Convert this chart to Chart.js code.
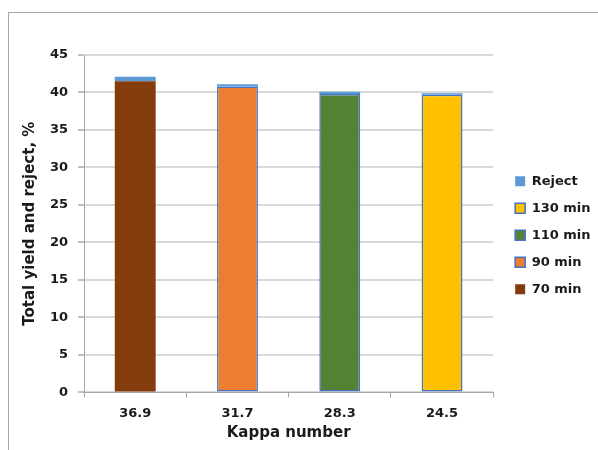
<!DOCTYPE html>
<html>
<head>
<meta charset="utf-8">
<script src="https://cdn.jsdelivr.net/npm/chart.js@4/dist/chart.umd.min.js"></script>
<style>
    html, body { margin: 0; background: #fff; overflow: hidden; width: 598px; height: 450px; }
    #moldura {
        position: absolute; left: 8px; top: 12px; width: 700px; height: 500px;
        border-left: 1px solid #a6a6a6; border-top: 1px solid #a6a6a6;
    }
    #caixa { position: absolute; left: 0; top: 0; width: 598px; height: 450px; }
</style>
</head>
<body>
<div id="moldura"></div>
<div id="caixa"><canvas id="grafico"></canvas></div>
<script>
const kappa = ["36.9", "31.7", "28.3", "24.5"];
const min70 = [41.5, null, null, null];
const min90 = [null, 40.8, null, null];
const min110 = [null, null, 39.8, null];
const min130 = [null, null, null, 39.7];
const rejeito = [0.6, 0.3, 0.3, 0.2];
const ticksY = [0, 5, 10, 15, 20, 25, 30, 35, 40, 45];

const fonte = "'DejaVu Sans', sans-serif";
const texto = "#1a1a1a";
const azulBorda = "#4472c4";

function serie(label, data, cor, borda) {
    return {
        label,
        data,
        backgroundColor: cor,
        borderColor: borda ? azulBorda : cor,
        borderWidth: borda ? 1.5 : 0,
        borderSkipped: false
    };
}

new Chart(document.getElementById("grafico"), {
    type: "bar",
    data: {
        labels: kappa,
        datasets: [
            serie("70 min", min70, "#843c0c", false),
            serie("90 min", min90, "#ed7d31", true),
            serie("110 min", min110, "#548235", true),
            serie("130 min", min130, "#ffc000", true),
            serie("Reject", rejeito, "#5b9bd5", false)
        ]
    },
    options: {
        responsive: true,
        maintainAspectRatio: false,
        animation: false,
        categoryPercentage: 1,
        barPercentage: 0.4,
        layout: { padding: { left: 17, top: 55, right: 0, bottom: 8 } },
        scales: {
            x: {
                stacked: true,
                grid: { offset: true, drawOnChartArea: false, tickLength: 5, color: "#a6a6a6" },
                border: { color: "#a6a6a6" },
                ticks: { color: texto, padding: 8, font: { family: fonte, size: 13, weight: "bold" } },
                title: {
                    display: true, text: "Kappa number", color: texto,
                    padding: { top: -5, bottom: 0 },
                    font: { family: fonte, size: 15, weight: "bold" }
                }
            },
            y: {
                stacked: true,
                min: 0,
                max: 45,
                afterBuildTicks: escala => { escala.ticks = ticksY.map(v => ({ value: v })); },
                grid: { color: "#d9d9d9", lineWidth: 2, tickLength: 6, tickColor: "#bfbfbf" },
                border: { color: "#a6a6a6" },
                ticks: { color: texto, padding: 10, font: { family: fonte, size: 13, weight: "bold" } },
                title: {
                    display: true, text: "Total yield and reject, %", color: texto,
                    padding: { top: 4, bottom: 1 },
                    font: { family: fonte, size: 15, weight: "bold" }
                }
            },
            // espaço entre a área do gráfico e a legenda
            folga: {
                position: "right",
                grid: { display: false },
                border: { display: false },
                ticks: { display: false },
                afterFit: escala => { escala.width = 8; }
            }
        },
        plugins: {
            tooltip: { enabled: false },
            legend: {
                position: "right",
                fullSize: false,
                reverse: true,
                title: { display: true, text: "", padding: 5.5, font: { size: 10 } },
                labels: {
                    boxWidth: 10,
                    boxHeight: 10,
                    padding: 14,
                    color: texto,
                    font: { family: fonte, size: 13, weight: "bold" }
                }
            }
        }
    }
});
</script>
</body>
</html>
